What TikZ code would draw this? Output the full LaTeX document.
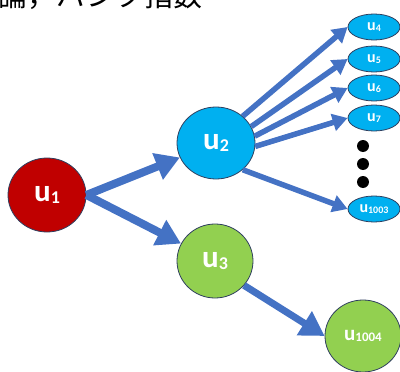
\documentclass[tikz,border=0pt]{standalone}
\usepackage{fontspec}
\setmainfont{Carlito}
\newfontfamily\cjk{Noto Sans CJK JP}
\usetikzlibrary{shapes.geometric,arrows.meta}
\definecolor{ured}{HTML}{C00000}
\definecolor{ucyan}{HTML}{00B0F0}
\definecolor{ugreen}{HTML}{92D050}
\definecolor{ablue}{HTML}{4472C4}
\definecolor{edge}{HTML}{2F3F5F}
\tikzset{
  unode/.style={ellipse, draw=edge, line width=0.8pt, text=white, inner sep=0pt, font=\bfseries},
  bigl/.style={font=\bfseries\fontsize{31}{31}\selectfont},
  arrmain/.style={draw=ablue, line width=8pt, -{Triangle[length=24pt,width=27pt]}},
  arrfan/.style={draw=ablue, line width=5.5pt, -{Triangle[length=15pt,width=17pt]}},
  dotn/.style={circle, fill=black, inner sep=0pt, minimum size=12pt}
}
\newcommand{\bigsub}[1]{{\fontsize{18}{18}\selectfont\raisebox{-2pt}{#1}}}
\newcommand{\smallsub}[1]{{\fontsize{10}{10}\selectfont\raisebox{-1pt}{#1}}}
\newcommand{\midsub}[1]{{\fontsize{13}{13}\selectfont\raisebox{-1.5pt}{#1}}}
\begin{document}
\begin{tikzpicture}[x=1pt,y=-1pt]
\useasboundingbox (0,0) rectangle (400,372);
\clip (0,0) rectangle (400,372);
\node[anchor=base west, inner sep=0pt, font=\cjk\fontsize{29}{29}\selectfont] (title) at (-2,6.5) {論，バンク指数};
% big nodes
\node[unode, fill=ured, minimum width=78pt, minimum height=74pt, bigl] (u1) at (47,195) {u\bigsub{1}};
\node[unode, fill=ucyan, minimum width=78pt, minimum height=72pt, bigl] (u2) at (216,143) {u\bigsub{2}};
\node[unode, fill=ugreen, minimum width=76pt, minimum height=74pt, bigl] (u3) at (215,261) {u\bigsub{3}};
\node[unode, fill=ugreen, minimum width=76pt, minimum height=72pt, font=\bfseries\fontsize{21}{21}\selectfont] (u1004) at (363,336) {u\midsub{1004}};
% small nodes
\foreach \n/\y in {4/27,5/59,6/88,7/118,1003/209}{
  \node[unode, fill=ucyan, minimum width=52pt, minimum height=26pt, font=\bfseries\fontsize{16}{16}\selectfont] (u\n) at (374,\y) {u\smallsub{\n}};
}
\node[dotn] (d1) at (363,146) {};
\node[dotn] (d2) at (363,164) {};
\node[dotn] (d3) at (363,182) {};
% arrows
\draw[arrmain] (u1.east) -- (u2);
\draw[arrmain] (u1.east) -- (u3);
\draw[arrmain, line width=7pt] (u3.-40) -- (u1004.west);
\draw[arrfan] (u2.45) -- (u4.west);
\draw[arrfan] (u2.25) -- (u5.west);
\draw[arrfan] (u2.10) -- (u6.west);
\draw[arrfan] (u2.-5) -- (u7.west);
\draw[arrfan] (u2.-45) -- (u1003.west);
\end{tikzpicture}
\end{document}
